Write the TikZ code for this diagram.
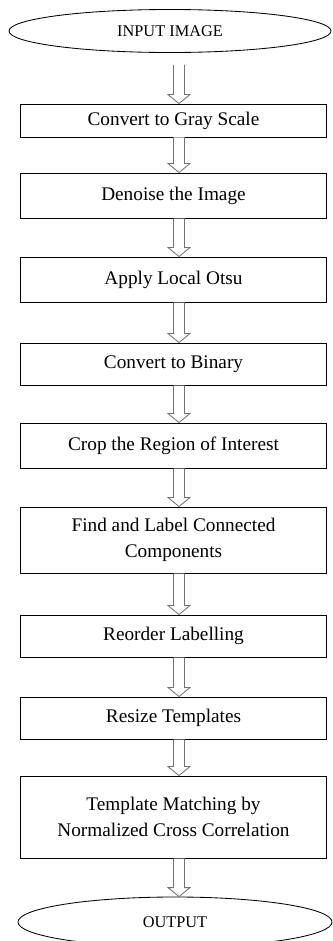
\documentclass[tikz,border=0pt]{standalone}
\usepackage{fontspec}
\setmainfont{Liberation Serif}
\usetikzlibrary{calc,shapes.geometric}

\tikzset{
    procbox/.style={draw, line width=0.7pt, rectangle, minimum width=7.625cm, align=center, font=\fontsize{13.7}{18}\selectfont},
    terminal/.style={draw, line width=0.6pt, ellipse, inner sep=0pt, font=\fontsize{11.6}{14}\selectfont},
    arrowline/.style={draw=black!55, line width=0.6pt, fill=white, line join=miter}
}

% hollow block arrow from #1 down to #2
\newcommand{\flowarrow}[2]{%
    \draw[arrowline] ($(#1 -| axis)+(-5.5,0)$) -- ($(#2 -| axis)+(-5.5,-9)$) -- ($(#2 -| axis)+(-11,-9)$) -- (#2 -| axis) -- ($(#2 -| axis)+(11,-9)$) -- ($(#2 -| axis)+(5.5,-9)$) -- ($(#1 -| axis)+(5.5,0)$);%
}

\begin{document}
\begin{tikzpicture}[x=0.025cm, y=-0.025cm]
    \useasboundingbox (0,0) rectangle (332,941);
    \coordinate (axis) at (179,0);

    \node[terminal, minimum width=8.05cm, minimum height=1.075cm] (input) at (170,31) {INPUT IMAGE};

    \node[procbox, minimum height=0.825cm] (gray) at (173.5,120.5) {Convert to Gray Scale};
    \node[procbox, minimum height=1.125cm] (denoise) at (173.5,195.5) {Denoise the Image};
    \node[procbox, minimum height=1.125cm] (otsu) at (173.5,279.5) {Apply Local Otsu};
    \node[procbox, minimum height=1.05cm] (binary) at (173.5,364) {Convert to Binary};
    \node[procbox, minimum height=1.125cm] (crop) at (173.5,445.5) {Crop the Region of Interest};
    \node[procbox, minimum height=1.65cm] (label) at (173.5,540) {Find and Label Connected\\Components};
    \node[procbox, minimum height=1.05cm] (reorder) at (173.5,636) {Reorder Labelling};
    \node[procbox, minimum height=1.05cm] (resize) at (173.5,718) {Resize Templates};
    \node[procbox, minimum height=2.05cm] (match) at (173.5,817) {Template Matching by\\Normalized Cross Correlation};

    \node[terminal, minimum width=7.85cm, minimum height=1.25cm] (output) at (175,922) {OUTPUT};

    \coordinate (inbase) at ($(input.south)+(0,12)$);

    \flowarrow{inbase}{gray.north}
    \flowarrow{gray.south}{denoise.north}
    \flowarrow{denoise.south}{otsu.north}
    \flowarrow{otsu.south}{binary.north}
    \flowarrow{binary.south}{crop.north}
    \flowarrow{crop.south}{label.north}
    \flowarrow{label.south}{reorder.north}
    \flowarrow{reorder.south}{resize.north}
    \flowarrow{resize.south}{match.north}
    \flowarrow{match.south}{output.north}

\end{tikzpicture}
\end{document}
